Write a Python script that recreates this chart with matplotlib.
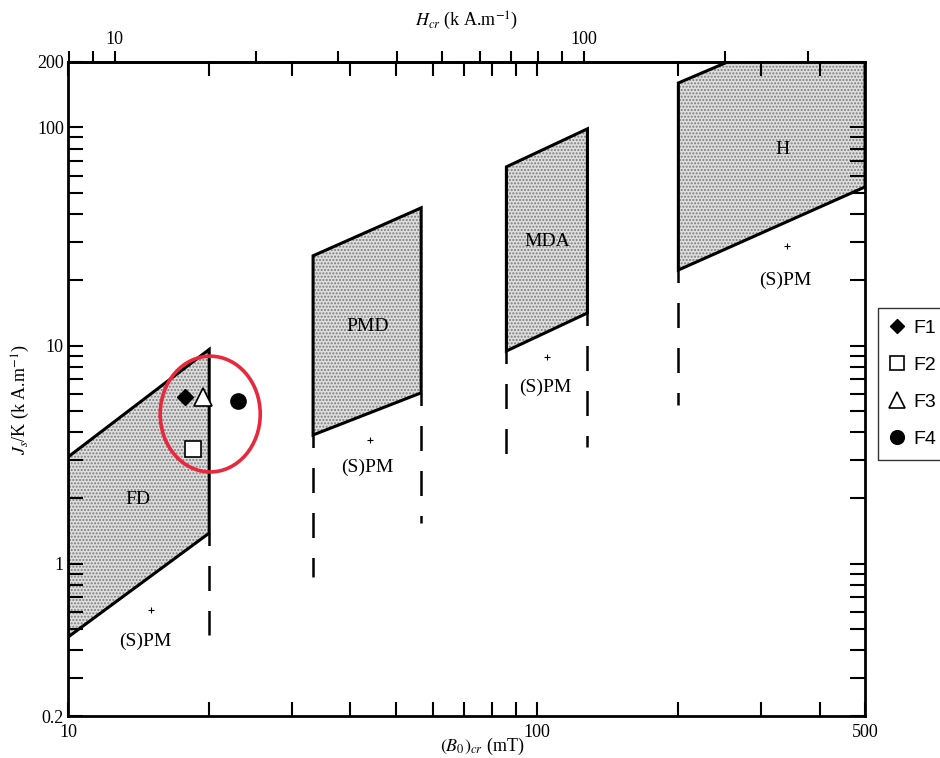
import matplotlib
matplotlib.use("Agg")
import matplotlib.pyplot as plt
import matplotlib.ticker as mticker
from matplotlib.patches import Polygon, Ellipse
import numpy as np

# domain regions (B in mT, Js/K in kA/m)
fd_x = [10, 20, 20, 10]
fd_y = [3.08, 9.6, 1.38, 0.46]
pmd_x = [33.3, 56.6, 56.6, 33.3]
pmd_y = [25.8, 42.8, 6.07, 3.89]
mda_x = [86, 128, 128, 86]
mda_y = [66, 98.6, 14.1, 9.44]
h_x = [200, 255, 500, 500, 200]
h_y = [160, 200, 200, 53.4, 22.2]

# dashed (S)PM boundaries below the regions
dash_x = [20, 33.3, 56.6, 86, 128, 200]
dash_top = [1.38, 3.89, 6.07, 9.44, 14.1, 22.2]
dash_bot = [0.47, 0.87, 1.54, 2.75, 3.43, 5.35]

# small "+" marks and (S)PM labels
plus_x = [15, 44, 105, 341]
plus_y = [0.61, 3.69, 8.87, 28.7]
spm_x = [14.6, 43.5, 104, 338]
spm_y = [0.44, 2.75, 6.45, 20]

# region names
names = ["FD", "PMD", "MDA", "H"]
name_x = [14.1, 43.5, 105, 334]
name_y = [1.96, 12.2, 29.9, 78.9]

# samples
samples = ["F1", "F2", "F3", "F4"]
samp_x = [17.8, 18.5, 19.4, 23.0]
samp_y = [5.81, 3.36, 5.8, 5.57]

plt.rcParams['font.family'] = ['Liberation Serif', 'DejaVu Serif']
plt.rcParams['mathtext.fontset'] = 'stix'
plt.rcParams['hatch.linewidth'] = 1.0

fig = plt.figure(figsize=(9.4, 7.58), dpi=100)
ax = fig.add_axes([0.0723, 0.0554, 0.848, 0.863])
ax.set_xscale('log')
ax.set_yscale('log')
ax.set_xlim(10, 500)
ax.set_ylim(0.2, 200)

for xs, ys in [(fd_x, fd_y), (pmd_x, pmd_y), (mda_x, mda_y), (h_x, h_y)]:
    pts = list(zip(xs, ys))
    ax.add_patch(Polygon(pts, closed=True, facecolor='#dedede', edgecolor='#7c7c7c',
                         hatch='.....', lw=0, zorder=1))
    ax.add_patch(Polygon(pts, closed=True, fill=False, edgecolor='black', lw=2.2,
                         joinstyle='miter', zorder=2))

for x, y0, y1 in zip(dash_x, dash_top, dash_bot):
    ax.plot([x, x], [y0, y1], color='black', lw=1.8,
            linestyle=(5, (10, 8)), zorder=2)

ax.plot(plus_x, plus_y, '+', color='black', ms=5, mew=0.8, zorder=3)
for x, y in zip(spm_x, spm_y):
    ax.text(x, y, "(S)PM", ha='center', va='center', fontsize=14)
for n, x, y in zip(names, name_x, name_y):
    ax.text(x, y, n, ha='center', va='center', fontsize=14)

styles = [dict(marker='D', ms=8, mfc='black', mec='black'),
          dict(marker='s', ms=11, mfc='white', mec='black', mew=1.2),
          dict(marker='^', ms=13, mfc='white', mec='black', mew=1.2),
          dict(marker='o', ms=11, mfc='black', mec='black')]
handles = []
for s, x, y, st in zip(samples, samp_x, samp_y, styles):
    h, = ax.plot([x], [y], linestyle='none', label=s, zorder=5, **st)
    handles.append(h)

# red ring round the samples
cen = ax.transAxes.inverted().transform(ax.transData.transform((20.1, 4.85)))
ax.add_patch(Ellipse(cen, 0.1255, 0.177, transform=ax.transAxes, fill=False,
                     edgecolor='#e8283c', lw=2.6, zorder=6))

# axes ticks
ax.set_xticks([10, 100, 500], ['10', '100', '500'])
ax.xaxis.set_minor_locator(mticker.LogLocator(base=10, subs=np.arange(2, 10), numticks=20))
ax.xaxis.set_minor_formatter(mticker.NullFormatter())
ax.set_yticks([0.2, 1, 10, 100, 200], ['0.2', '1', '10', '100', '200'])
ax.yaxis.set_minor_locator(mticker.LogLocator(base=10, subs=np.arange(2, 10), numticks=20))
ax.yaxis.set_minor_formatter(mticker.NullFormatter())
ax.tick_params(axis='x', which='both', direction='in', top=True, bottom=True,
               length=10, width=1.5, labelsize=13, pad=6)
ax.tick_params(axis='y', which='both', direction='in', left=True, right=True,
               length=11, width=1.5, labelsize=13, pad=3)
for sp in ax.spines.values():
    sp.set_linewidth(2)

ax.set_xlabel(r'$(B_0)_{cr}$ (mT)', fontsize=13)
ax.xaxis.set_label_coords(0.52, -0.03)
ax.set_ylabel(r'$J_s$/K (k A.m$^{-1}$)', fontsize=13)
ax.yaxis.set_label_coords(-0.045, 0.483)

# top axis in kA/m
top = ax.secondary_xaxis('top', functions=(lambda b: b / 1.2566, lambda h: h * 1.2566))
top.set_xticks([10, 100], ['10', '100'])
top.xaxis.set_minor_locator(mticker.LogLocator(base=10, subs=np.arange(2, 10), numticks=20))
top.xaxis.set_minor_formatter(mticker.NullFormatter())
top.tick_params(which='both', direction='out', length=8, width=1.5, labelsize=13, pad=2)
top.spines['top'].set_linewidth(2)
top.set_xlabel(r'$H_{cr}$ (k A.m$^{-1}$)', fontsize=13, labelpad=4)

leg = fig.legend(handles=handles, loc='upper left', bbox_to_anchor=(0.934, 0.594),
                 frameon=True, fancybox=False, edgecolor='black',
                 prop={'family': 'Liberation Sans', 'size': 14},
                 handlelength=0.8, handletextpad=0.4, labelspacing=1.0,
                 borderpad=0.6, borderaxespad=0, markerscale=0.9)
leg.get_frame().set_linewidth(1.0)

fig.savefig('out.png', dpi=100)
